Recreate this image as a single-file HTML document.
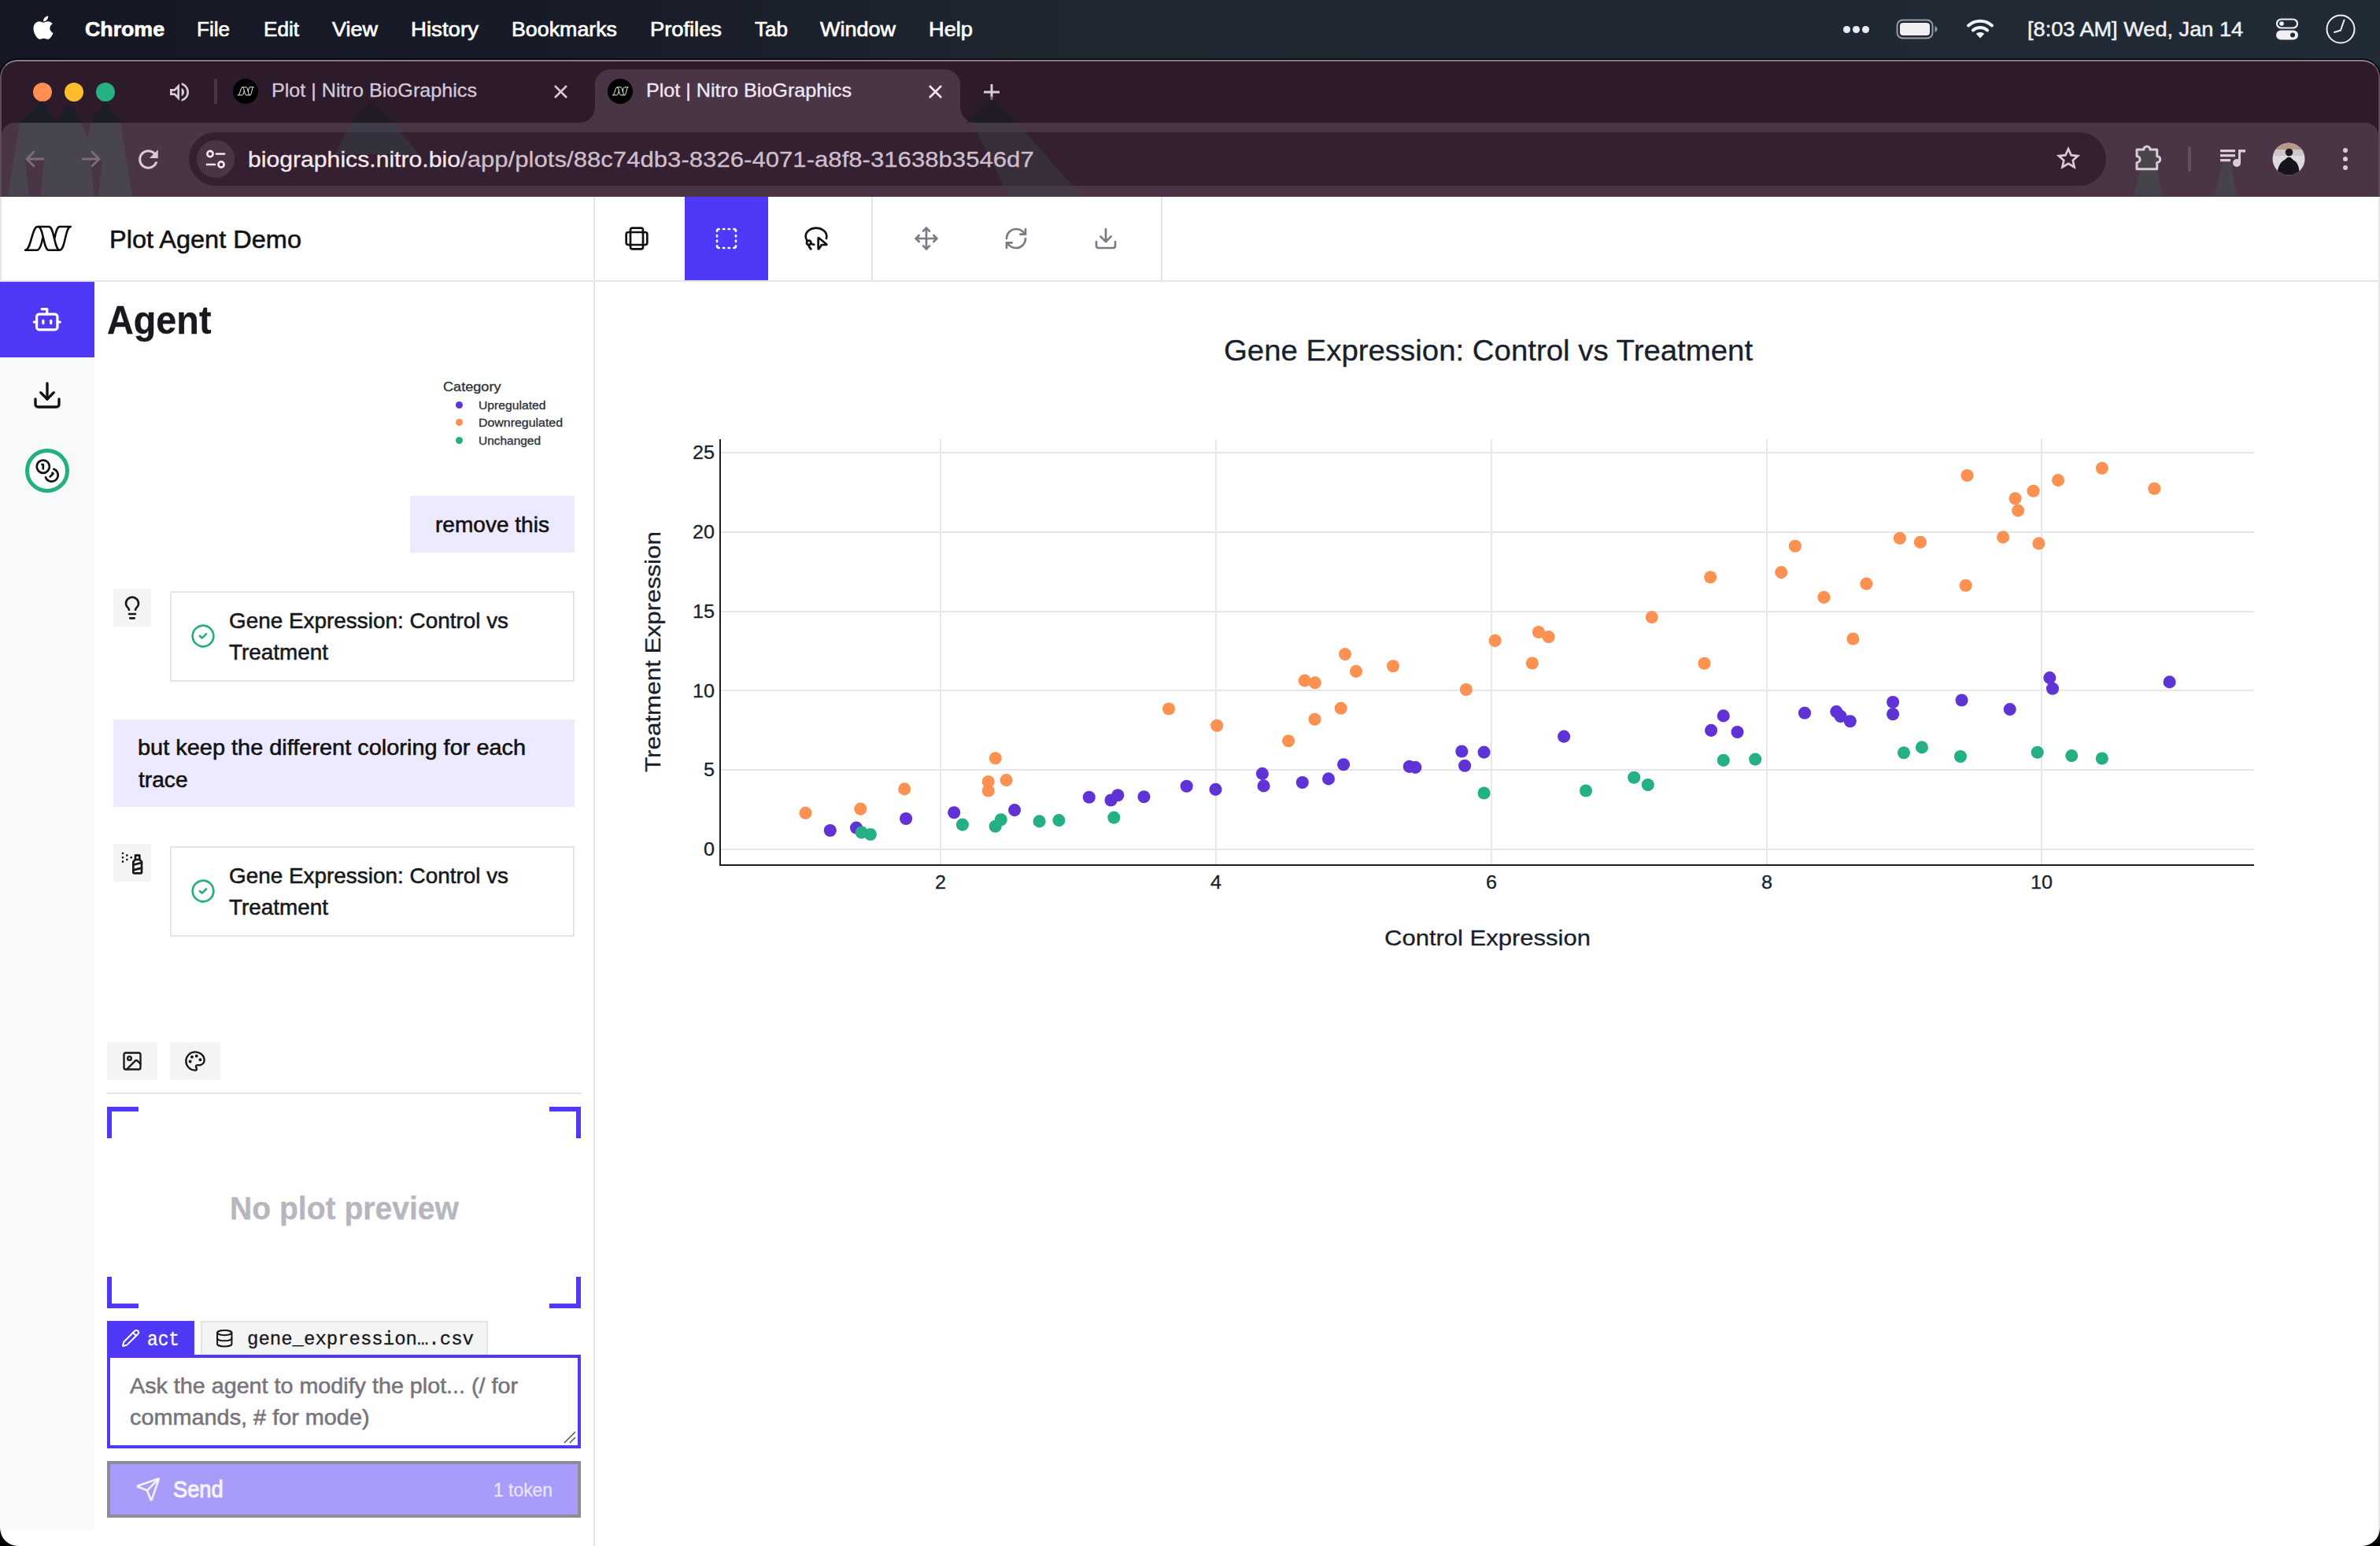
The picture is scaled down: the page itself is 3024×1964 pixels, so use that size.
<!DOCTYPE html>
<html><head><meta charset="utf-8"><title>Plot | Nitro BioGraphics</title>
<style>
html,body{margin:0;padding:0}
body{width:3024px;height:1964px;position:relative;overflow:hidden;background:#fff;font-family:"Liberation Sans",sans-serif}
.t{position:absolute;white-space:nowrap;transform-origin:0 50%;-webkit-text-stroke:0.3px currentColor}
.r{position:absolute;box-sizing:border-box}
</style></head><body>
<div class="r" style="left:0px;top:0px;width:3024px;height:110px;background:linear-gradient(90deg,#151824 0%,#181c28 25%,#1f2731 45%,#212b35 100%);"></div>
<svg class="r" style="left:41px;top:18px;" width="28" height="34" viewBox="0 0 384 512"><path fill="#fff" d="M318.700 268.700c-.2-36.700 16.400-64.400 50-84.800-18.800-26.900-47.200-41.700-84.700-44.600-35.500-2.800-74.300 20.700-88.500 20.700-15 0-49.400-19.700-76.400-19.700C63.300 141.200 4 184.800 4 273.500q0 39.300 14.400 81.200c12.800 36.700 59 126.700 107.200 125.200 25.200-.6 43-17.900 75.800-17.900 31.800 0 48.300 17.900 76.400 17.900 48.600-.7 90.400-82.500 102.600-119.300-65.200-30.700-61.700-90-61.700-91.900zm-56.600-164.200c27.300-32.400 24.800-61.900 24-72.500-24.100 1.400-52 16.400-67.900 34.900-17.500 19.800-27.800 44.300-25.600 71.900 26.100 2 49.900-11.400 69.500-34.300z"/></svg>
<div class="t" style="left:108.0px;top:24.8px;font:700 25px/25px 'Liberation Sans',sans-serif;color:#fff;transform:scaleX(1.0693);-webkit-text-stroke:0.650px #fff">Chrome</div>
<div class="t" style="left:250.0px;top:24.8px;font:400 25px/25px 'Liberation Sans',sans-serif;color:#fff;transform:scaleX(1.0431);-webkit-text-stroke:0.650px #fff">File</div>
<div class="t" style="left:335.0px;top:24.8px;font:400 25px/25px 'Liberation Sans',sans-serif;color:#fff;transform:scaleX(1.0446);-webkit-text-stroke:0.650px #fff">Edit</div>
<div class="t" style="left:422.0px;top:24.8px;font:400 25px/25px 'Liberation Sans',sans-serif;color:#fff;transform:scaleX(1.0797);-webkit-text-stroke:0.650px #fff">View</div>
<div class="t" style="left:522.0px;top:24.8px;font:400 25px/25px 'Liberation Sans',sans-serif;color:#fff;transform:scaleX(1.1057);-webkit-text-stroke:0.650px #fff">History</div>
<div class="t" style="left:650.0px;top:24.8px;font:400 25px/25px 'Liberation Sans',sans-serif;color:#fff;transform:scaleX(1.0716);-webkit-text-stroke:0.650px #fff">Bookmarks</div>
<div class="t" style="left:826.0px;top:24.8px;font:400 25px/25px 'Liberation Sans',sans-serif;color:#fff;transform:scaleX(1.0917);-webkit-text-stroke:0.650px #fff">Profiles</div>
<div class="t" style="left:959.0px;top:24.8px;font:400 25px/25px 'Liberation Sans',sans-serif;color:#fff;transform:scaleX(1.0419);-webkit-text-stroke:0.650px #fff">Tab</div>
<div class="t" style="left:1042.0px;top:24.8px;font:400 25px/25px 'Liberation Sans',sans-serif;color:#fff;transform:scaleX(1.0798);-webkit-text-stroke:0.650px #fff">Window</div>
<div class="t" style="left:1180.0px;top:24.8px;font:400 25px/25px 'Liberation Sans',sans-serif;color:#fff;transform:scaleX(1.0894);-webkit-text-stroke:0.650px #fff">Help</div>
<div class="r" style="left:2342px;top:33px;width:8.5px;height:8.5px;background:#e9e9ee;border-radius:50%"></div>
<div class="r" style="left:2354px;top:33px;width:8.5px;height:8.5px;background:#e9e9ee;border-radius:50%"></div>
<div class="r" style="left:2366px;top:33px;width:8.5px;height:8.5px;background:#e9e9ee;border-radius:50%"></div>
<svg class="r" style="left:2408px;top:23px" width="56" height="28" viewBox="0 0 56 28"><rect x="2.500" y="2.500" width="45" height="23" rx="7" fill="none" stroke="#9a9aa6" stroke-width="2"/><rect x="6" y="6" width="38" height="16" rx="4" fill="#eeeef3"/><path d="M50.500 10v8c2-.8 3-2.300 3-4s-1-3.200-3-4z" fill="#9a9aa6"/></svg>
<svg class="r" style="left:2498px;top:23px" width="36" height="27" viewBox="0 0 36 27"><g fill="none" stroke="#f0f0f4" stroke-width="4" stroke-linecap="round"><path d="M3 9.500C11.500 1.800 24.500 1.800 33 9.500"/><path d="M8.800 15.500c5.200-4.600 13.200-4.600 18.400 0"/></g><path d="M18 25.500l-5.200-5.600c2.900-2.500 7.500-2.500 10.400 0z" fill="#f0f0f4"/></svg>
<div class="t" style="left:2576.0px;top:24.3px;font:400 26px/26px 'Liberation Sans',sans-serif;color:#f0f0f4;transform:scaleX(1.0439);-webkit-text-stroke:0.500px #f0f0f4">[8:03 AM] Wed, Jan 14</div>
<svg class="r" style="left:2892px;top:23px" width="28" height="28" viewBox="0 0 28 28"><rect x="1" y="1.500" width="26" height="11" rx="5.500" fill="none" stroke="#f0f0f4" stroke-width="2.200"/><circle cx="7" cy="7" r="2.800" fill="#f0f0f4"/><rect x="0" y="15.500" width="28" height="12" rx="6" fill="#f0f0f4"/><circle cx="21" cy="21.500" r="3" fill="#212b35"/></svg>
<svg class="r" style="left:2955px;top:18px" width="38" height="38" viewBox="0 0 38 38"><circle cx="19" cy="19" r="17.500" fill="none" stroke="#f0f0f4" stroke-width="2"/><path d="M19 20.500l-8 2.500M19 20.500l4.500-13" stroke="#f0f0f4" stroke-width="2" stroke-linecap="round" fill="none"/></svg>
<div class="r" style="left:0px;top:75.5px;width:3024px;height:180px;background:#2d1b2b;border-radius:22px 22px 0 0;border:2px solid #5a4e59;border-top-color:#857a86;border-bottom:none;box-shadow:0 0 0 1.500px #000"></div>
<div class="r" style="left:2px;top:156px;width:3020px;height:94px;background:#4a3547;border-radius:16px 16px 0 0"></div>
<div class="r" style="left:756px;top:88px;width:464px;height:70px;background:#4a3547;border-radius:20px 20px 0 0"></div>
<svg class="r" style="left:736px;top:136px" width="20" height="20"><path d="M20 0v20H0A20 20 0 0 0 20 0z" fill="#4a3547"/></svg>
<svg class="r" style="left:1220px;top:136px" width="20" height="20"><path d="M0 0v20h20A20 20 0 0 1 0 0z" fill="#4a3547"/></svg>
<div class="r" style="left:42px;top:105px;width:24px;height:24px;background:#ff8f50;border-radius:50%"></div>
<div class="r" style="left:82px;top:105px;width:24px;height:24px;background:#ffbd2e;border-radius:50%"></div>
<div class="r" style="left:122px;top:105px;width:24px;height:24px;background:#24b280;border-radius:50%"></div>
<svg class="r" style="left:212px;top:100.500px" width="32" height="32" viewBox="0 0 24 24" fill="#d9cbd7" fill-rule="evenodd"><path d="M3 9v6h4l5 5V4L7 9H3zm7-.17v6.340L7.830 13H5v-2h2.830L10 8.830zM16.500 12A4.500 4.500 0 0 0 14 7.970v8.050c1.480-.73 2.500-2.250 2.500-4.020zM14 3.230v2.060c2.890.86 5 3.540 5 6.710s-2.110 5.850-5 6.710v2.060c4.010-.91 7-4.490 7-8.770s-2.990-7.860-7-8.770z"/></svg>
<div class="r" style="left:272px;top:100px;width:4px;height:32px;background:#4a3547;border-radius:1px"></div>
<div class="r" style="left:296px;top:100px;width:32px;height:32px;background:#000;border-radius:50%"></div>
<svg class="r" style="left:301.5px;top:110.2px" width="21" height="11.600" viewBox="-2 -1 62 34" fill="none" stroke="#fff" stroke-width="2.800" stroke-linejoin="round" stroke-linecap="round"><path d="M0.2 30.9C7.600 30.900 8.400 1.260 15.800 1.260L30 1.260C37.200 1.260 36.800 30.900 43.900 30.900C51.200 30.900 50.600 1.260 57.800 1.260L43.900 1.260C40.200 1.260 38.800 9 37.400 16"/><path d="M0.2 30.900L14.900 30.900C18.300 30.900 21 22 22.300 15.600"/><path d="M16.500 1.260C23.300 1.260 23 30.900 30 30.900L43.900 30.900"/></svg>
<div class="r" style="left:772px;top:100px;width:32px;height:32px;background:#000;border-radius:50%"></div>
<svg class="r" style="left:777.5px;top:110.2px" width="21" height="11.600" viewBox="-2 -1 62 34" fill="none" stroke="#fff" stroke-width="2.800" stroke-linejoin="round" stroke-linecap="round"><path d="M0.2 30.9C7.600 30.900 8.400 1.260 15.800 1.260L30 1.260C37.200 1.260 36.800 30.900 43.900 30.900C51.200 30.900 50.600 1.260 57.800 1.260L43.900 1.260C40.200 1.260 38.800 9 37.400 16"/><path d="M0.2 30.900L14.900 30.900C18.300 30.900 21 22 22.300 15.600"/><path d="M16.500 1.260C23.300 1.260 23 30.900 30 30.900L43.900 30.900"/></svg>
<div class="t" style="left:345.0px;top:103.2px;font:400 24px/24px 'Liberation Sans',sans-serif;color:#d6c8d4;transform:scaleX(1.0482);">Plot | Nitro BioGraphics</div>
<div class="t" style="left:821.0px;top:103.2px;font:400 24px/24px 'Liberation Sans',sans-serif;color:#f1e9ef;transform:scaleX(1.0482);">Plot | Nitro BioGraphics</div>
<svg class="r" style="left:703.0px;top:107.0px" width="19" height="19"><path d="M2 2L17 17M17 2L2 17" stroke="#d6c8d4" stroke-width="2.6" fill="none"/></svg>
<svg class="r" style="left:1178.5px;top:107.0px" width="19" height="19"><path d="M2 2L17 17M17 2L2 17" stroke="#f1e9ef" stroke-width="2.6" fill="none"/></svg>
<svg class="r" style="left:1248px;top:105px" width="24" height="24"><path d="M12 2v20M2 12h20" stroke="#d9cbd7" stroke-width="3" fill="none"/></svg>
<svg class="r" style="left:169.850px;top:183.850px" width="36.900" height="36.900" viewBox="0 0 24 24" fill="#d9cbd7"><path d="M17.650 6.350A7.958 7.958 0 0 0 12 4c-4.420 0-7.990 3.580-7.990 8s3.570 8 7.990 8c3.730 0 6.840-2.550 7.730-6h-2.080A5.990 5.990 0 0 1 12 18c-3.310 0-6-2.690-6-6s2.690-6 6-6c1.660 0 3.140.69 4.220 1.780L13 11h7V4l-2.350 2.350z"/></svg>
<div class="r" style="left:240px;top:168px;width:2436px;height:68px;background:#342031;border-radius:34px"></div>
<svg class="r" style="left:25px;top:128px" width="47" height="28"><polygon points="29.0,0.0 0.0,28.0 47.0,28.0" fill="rgba(22,30,38,0.78)"/></svg>
<svg class="r" style="left:72px;top:129px" width="33" height="27"><polygon points="16.0,0.0 0.0,23.0 0.0,27.0 33.0,27.0" fill="rgba(22,30,38,0.78)"/></svg>
<svg class="r" style="left:116px;top:128px" width="37" height="28"><polygon points="18.0,0.0 0.0,28.0 37.0,28.0" fill="rgba(22,30,38,0.78)"/></svg>
<svg class="r" style="left:10px;top:156px" width="158" height="93"><polygon points="15.0,0.0 94.0,0.0 101.0,20.0 106.0,0.0 143.0,0.0 158.0,93.0 0.0,93.0" fill="rgba(72,84,84,0.520)"/></svg>
<svg class="r" style="left:32px;top:203px" width="24" height="46"><polygon points="0.0,0.0 24.0,0.0 19.5,46.0 5.0,46.0" fill="#4a3547"/></svg>
<svg class="r" style="left:114.5px;top:204px" width="15.199999999999989" height="45"><polygon points="0.0,0.0 15.2,0.0 10.1,45.0 5.1,45.0" fill="#4a3547"/></svg>
<svg class="r" style="left:446px;top:127px" width="54" height="29"><polygon points="27.0,0.0 0.0,29.0 54.0,29.0" fill="rgba(22,30,38,0.45)"/></svg>
<svg class="r" style="left:426px;top:156px" width="106" height="40"><polygon points="20.0,0.0 74.0,0.0 106.0,40.0 0.0,40.0" fill="rgba(52,72,76,0.42)"/></svg>
<svg class="r" style="left:1227px;top:122px" width="65" height="34"><polygon points="33.0,0.0 0.0,34.0 65.0,34.0" fill="rgba(22,30,38,0.55)"/></svg>
<svg class="r" style="left:1235px;top:156px" width="139" height="93"><polygon points="0.0,0.0 57.0,0.0 139.0,93.0 47.0,93.0" fill="rgba(60,70,70,0.38)"/></svg>
<svg class="r" style="left:2711px;top:205px" width="37" height="44"><polygon points="11.0,0.0 27.0,0.0 37.0,44.0 0.0,44.0" fill="rgba(70,78,76,0.55)"/></svg>
<svg class="r" style="left:2814px;top:205px" width="28" height="44"><polygon points="10.0,0.0 20.0,0.0 28.0,44.0 0.0,44.0" fill="rgba(70,78,76,0.55)"/></svg>
<svg class="r" style="left:30px;top:188px" width="28" height="28" viewBox="0 0 28 28" fill="none" stroke="#7d6a7b" stroke-width="2.800" stroke-linecap="round" stroke-linejoin="round"><path d="M25 14H4M13 5l-9 9 9 9"/></svg>
<svg class="r" style="left:102px;top:188px" width="28" height="28" viewBox="0 0 28 28" fill="none" stroke="#7d6a7b" stroke-width="2.800" stroke-linecap="round" stroke-linejoin="round"><path d="M3 14h21M15 5l9 9-9 9"/></svg>
<div class="r" style="left:250px;top:178px;width:48px;height:48px;background:#4a3547;border-radius:50%"></div>
<svg class="r" style="left:260px;top:189px" width="28" height="27" viewBox="0 0 28 27" fill="none" stroke="#f1e9ef" stroke-width="2.600" stroke-linecap="round"><circle cx="7" cy="6.500" r="3.600"/><path d="M15 6.500h10"/><circle cx="21" cy="20" r="3.600"/><path d="M3 20h10"/></svg>
<div class="t" style="left:314.5px;top:188.8px;font:400 28px/28px 'Liberation Sans',sans-serif;color:#f1e9ef;transform:scaleX(1.0772);">biographics.nitro.bio</div>
<div class="t" style="left:585.0px;top:188.8px;font:400 28px/28px 'Liberation Sans',sans-serif;color:#cdbfcb;transform:scaleX(1.1118);">/app/plots/88c74db3-8326-4071-a8f8-31638b3546d7</div>
<svg class="r" style="left:2612px;top:185px" width="32" height="32" viewBox="0 0 24 24" fill="none" stroke="#d9cbd7" stroke-width="2" stroke-linejoin="miter"><path d="M12 3.200l2.700 5.900 6.400.7-4.800 4.300 1.400 6.300L12 17.100l-5.700 3.300 1.400-6.300-4.800-4.300 6.400-.7z"/></svg>
<svg class="r" style="left:2713.100px;top:183.500px" width="36" height="36" viewBox="0 0 36 36" fill="#4b454b" stroke="#d9cbd7" stroke-width="3" stroke-linejoin="round"><path d="M2 6H10.850A4 4 0 0 1 18.850 6H27.700V14.400A4 4 0 0 1 27.700 22.400V30.800H2V22.400A4 4 0 0 0 2 14.400Z"/></svg>
<div class="r" style="left:2780px;top:186px;width:4px;height:32px;background:#64525f;border-radius:2px"></div>
<svg class="r" style="left:2821px;top:188px" width="32" height="26" viewBox="0 0 32 26" fill="#d9cbd7"><rect x="0" y="2" width="19" height="3.200"/><rect x="0" y="8" width="19" height="3.200"/><rect x="0" y="14" width="13" height="3.200"/><circle cx="21" cy="19" r="5"/><rect x="23" y="2" width="3" height="17"/><rect x="23" y="2" width="9" height="3.500"/></svg>
<svg class="r" style="left:2887px;top:181px" width="42" height="42" viewBox="0 0 42 42"><defs><clipPath id="av"><circle cx="21" cy="21" r="20.500"/></clipPath></defs><g clip-path="url(#av)"><rect width="42" height="42" fill="#dcdade"/><rect width="42" height="11" fill="#b89888"/><rect y="9" width="42" height="8" fill="#cfc6c8"/><circle cx="21.500" cy="12.500" r="4.800" fill="#1b1820"/><path d="M6 42c1-9 3-16 9-19.500 3-1.500 3.500-4 6.500-4s4 3 6.500 4.500c5 3 6.500 9 7 19z" fill="#15141b"/></g></svg>
<div class="r" style="left:2977px;top:188px;width:6px;height:6px;background:#d9cbd7;border-radius:50%"></div>
<div class="r" style="left:2977px;top:199px;width:6px;height:6px;background:#d9cbd7;border-radius:50%"></div>
<div class="r" style="left:2977px;top:210px;width:6px;height:6px;background:#d9cbd7;border-radius:50%"></div>
<div class="r" style="left:0px;top:250px;width:3024px;height:1714px;background:#fff;"></div>
<div class="r" style="left:0px;top:250px;width:2px;height:1700px;background:rgba(90,80,95,0.15);"></div>
<div class="r" style="left:3022px;top:250px;width:2px;height:1700px;background:rgba(90,80,95,0.15);"></div>
<div class="r" style="left:0px;top:356px;width:3024px;height:2px;background:#e4e4ec;"></div>
<div class="r" style="left:0px;top:358px;width:120px;height:1586px;background:#f8f9fb;"></div>
<div class="r" style="left:0px;top:358px;width:120px;height:96px;background:#4f39f6;"></div>
<svg class="r" style="left:40.25px;top:386px;" width="39.5" height="39.5" viewBox="0 0 24 24" fill="none" stroke="#fff" stroke-width="2" stroke-linecap="round" stroke-linejoin="round"><path d="M12 8V4H8"/><rect width="16" height="12" x="4" y="8" rx="2"/><path d="M2 14h2"/><path d="M20 14h2"/><path d="M15 13v2"/><path d="M9 13v2"/></svg>
<svg class="r" style="left:40px;top:482px;" width="40" height="40" viewBox="0 0 24 24" fill="none" stroke="#111" stroke-width="2" stroke-linecap="round" stroke-linejoin="round"><path d="M21 15v4a2 2 0 0 1-2 2H5a2 2 0 0 1-2-2v-4"/><polyline points="7 10 12 15 17 10"/><line x1="12" x2="12" y1="15" y2="3"/></svg>
<div class="r" style="left:32px;top:570px;width:55.6px;height:55.6px;background:#fff;border-radius:50%;border:5px solid #22b07d"></div>
<svg class="r" style="left:43.7px;top:581.5px;" width="32.4" height="32.4" viewBox="0 0 24 24" fill="none" stroke="#111" stroke-width="2" stroke-linecap="round" stroke-linejoin="round"><circle cx="8" cy="8" r="6"/><path d="M18.09 10.37A6 6 0 1 1 10.34 18"/><path d="M7 6h1v4"/><path d="m16.71 13.88.7.71-2.82 2.82"/></svg>
<div class="r" style="left:754px;top:250px;width:2px;height:1714px;background:#e4e4ec;"></div>
<svg class="r" style="left:30px;top:284px" width="62" height="36" viewBox="-2 -2.800 62 36" fill="none" stroke="#0a0a0a" stroke-width="2.500" stroke-linejoin="round" stroke-linecap="round"><path d="M0.2 30.9C7.600 30.900 8.400 1.260 15.800 1.260L30 1.260C37.200 1.260 36.800 30.900 43.900 30.900C51.200 30.900 50.600 1.260 57.800 1.260L43.900 1.260C40.200 1.260 38.800 9 37.400 16"/><path d="M0.2 30.900L14.900 30.900C18.300 30.900 21 22 22.300 15.600"/><path d="M16.500 1.260C23.300 1.260 23 30.900 30 30.900L43.900 30.900"/></svg>
<div class="t" style="left:139.0px;top:287.5px;font:400 32px/32px 'Liberation Sans',sans-serif;color:#111;transform:scaleX(1.0161);-webkit-text-stroke:0.550px currentColor">Plot Agent Demo</div>
<div class="t" style="left:135.8px;top:382.3px;font:700 49.5px/49.5px 'Liberation Sans',sans-serif;color:#18181f;transform:scaleX(0.9448);">Agent</div>
<div class="r" style="left:870px;top:250px;width:106px;height:106px;background:#4f39f6;"></div>
<div class="r" style="left:1106.5px;top:250px;width:2px;height:106px;background:#e4e4ec;"></div>
<div class="r" style="left:1475px;top:250px;width:2px;height:106px;background:#e4e4ec;"></div>
<svg class="r" style="left:793px;top:287px;" width="32" height="32" viewBox="0 0 24 24" fill="none" stroke="#111" stroke-width="2" stroke-linecap="round" stroke-linejoin="round"><rect width="12" height="20" x="6" y="2" rx="2"/><rect width="20" height="12" x="2" y="6" rx="2"/></svg>
<svg class="r" style="left:907px;top:287px;" width="32" height="32" viewBox="0 0 24 24" fill="none" stroke="#fff" stroke-width="2" stroke-linecap="round" stroke-linejoin="round"><path d="M5 3a2 2 0 0 0-2 2"/><path d="M19 3a2 2 0 0 1 2 2"/><path d="M21 19a2 2 0 0 1-2 2"/><path d="M5 21a2 2 0 0 1-2-2"/><path d="M9 3h1"/><path d="M9 21h1"/><path d="M14 3h1"/><path d="M14 21h1"/><path d="M3 9v1"/><path d="M21 9v1"/><path d="M3 14v1"/><path d="M21 14v1"/></svg>
<svg class="r" style="left:1021.4000000000001px;top:287px;" width="32" height="32" viewBox="0 0 24 24" fill="none" stroke="#111" stroke-width="2" stroke-linecap="round" stroke-linejoin="round"><path d="M7 22a5 5 0 0 1-2-4"/><path d="M7 16.93c.96.43 1.96.74 2.990.91"/><path d="M3.34 14A6.8 6.8 0 0 1 2 10c0-4.420 4.480-8 10-8s10 3.580 10 8a7.190 7.190 0 0 1-.33 2"/><path d="M5 18a2 2 0 1 0 0-4 2 2 0 0 0 0 4z"/><path d="M14.33 22h-.09a.35.35 0 0 1-.24-.32v-10a.34.34 0 0 1 .33-.34c.08 0 .15.030.21.080l7.340 6a.33.33 0 0 1-.21.590h-4.490l-2.570 3.850a.35.35 0 0 1-.28.140z"/></svg>
<svg class="r" style="left:1161.2px;top:287px;" width="32" height="32" viewBox="0 0 24 24" fill="none" stroke="#7a7a85" stroke-width="2" stroke-linecap="round" stroke-linejoin="round"><path d="M12 2v20"/><path d="m15 19-3 3-3-3"/><path d="m19 9 3 3-3 3"/><path d="M2 12h20"/><path d="m5 9-3 3 3 3"/><path d="m9 5 3-3 3 3"/></svg>
<svg class="r" style="left:1275.3px;top:287px;" width="32" height="32" viewBox="0 0 24 24" fill="none" stroke="#7a7a85" stroke-width="2" stroke-linecap="round" stroke-linejoin="round"><path d="M3 12a9 9 0 0 1 9-9 9.75 9.75 0 0 1 6.740 2.740L21 8"/><path d="M21 3v5h-5"/><path d="M21 12a9 9 0 0 1-9 9 9.75 9.75 0 0 1-6.740-2.740L3 16"/><path d="M8 16H3v5"/></svg>
<svg class="r" style="left:1389.2px;top:287px;" width="32" height="32" viewBox="0 0 24 24" fill="none" stroke="#7a7a85" stroke-width="2" stroke-linecap="round" stroke-linejoin="round"><path d="M21 15v4a2 2 0 0 1-2 2H5a2 2 0 0 1-2-2v-4"/><polyline points="7 10 12 15 17 10"/><line x1="12" x2="12" y1="15" y2="3"/></svg>
<div class="t" style="left:563.0px;top:483.4px;font:400 17px/17px 'Liberation Sans',sans-serif;color:#2a2f3a;transform:scaleX(1.0657);">Category</div>
<div class="r" style="left:578.5px;top:510.0px;width:9px;height:9px;background:#6033d6;border-radius:50%"></div>
<div class="t" style="left:607.5px;top:508.0px;font:400 14.5px/14.5px 'Liberation Sans',sans-serif;color:#2a2f3a;transform:scaleX(1.0825);">Upregulated</div>
<div class="r" style="left:578.5px;top:532.2px;width:9px;height:9px;background:#fd9152;border-radius:50%"></div>
<div class="t" style="left:607.5px;top:530.2px;font:400 14.5px/14.5px 'Liberation Sans',sans-serif;color:#2a2f3a;transform:scaleX(1.0973);">Downregulated</div>
<div class="r" style="left:578.5px;top:554.5px;width:9px;height:9px;background:#24b084;border-radius:50%"></div>
<div class="t" style="left:607.5px;top:552.5px;font:400 14.5px/14.5px 'Liberation Sans',sans-serif;color:#2a2f3a;transform:scaleX(1.0653);">Unchanged</div>
<div class="r" style="left:521px;top:630px;width:209px;height:72px;background:#ede9fe;"></div>
<div class="t" style="left:552.5px;top:652.8px;font:400 28px/28px 'Liberation Sans',sans-serif;color:#111;transform:scaleX(1.0017);-webkit-text-stroke:0.550px currentColor">remove this</div>
<div class="r" style="left:144px;top:748px;width:48px;height:48px;background:#f4f4f5;"></div>
<svg class="r" style="left:152px;top:756px;" width="32" height="32" viewBox="0 0 24 24" fill="none" stroke="#18181b" stroke-width="2" stroke-linecap="round" stroke-linejoin="round"><path d="M15 14c.2-1 .7-1.7 1.5-2.5 1-.9 1.5-2.2 1.5-3.5A6 6 0 0 0 6 8c0 1 .2 2.2 1.5 3.5.7.7 1.300 1.5 1.5 2.5"/><path d="M9 18h6"/><path d="M10 22h4"/></svg>
<div class="r" style="left:216px;top:751px;width:514px;height:115px;background:#fff;border:2px solid #e4e4ea"></div>
<svg class="r" style="left:242px;top:792px;" width="32" height="32" viewBox="0 0 24 24" fill="none" stroke="#22b07d" stroke-width="2" stroke-linecap="round" stroke-linejoin="round"><circle cx="12" cy="12" r="10"/><path d="m9 12 2 2 4-4"/></svg>
<div class="t" style="left:290.5px;top:773.7px;font:400 28.5px/28.5px 'Liberation Sans',sans-serif;color:#18181b;transform:scaleX(0.9788);-webkit-text-stroke:0.550px currentColor">Gene Expression: Control vs</div>
<div class="t" style="left:290.5px;top:813.7px;font:400 28.5px/28.5px 'Liberation Sans',sans-serif;color:#18181b;transform:scaleX(0.9784);-webkit-text-stroke:0.550px currentColor">Treatment</div>
<div class="r" style="left:144px;top:914px;width:586px;height:111px;background:#ede9fe;"></div>
<div class="t" style="left:175.2px;top:935.2px;font:400 28.5px/28.5px 'Liberation Sans',sans-serif;color:#111;transform:scaleX(1.0149);-webkit-text-stroke:0.550px currentColor">but keep the different coloring for each</div>
<div class="t" style="left:176.0px;top:975.6px;font:400 28.5px/28.5px 'Liberation Sans',sans-serif;color:#111;transform:scaleX(0.9867);-webkit-text-stroke:0.550px currentColor">trace</div>
<div class="r" style="left:144px;top:1072px;width:48px;height:48px;background:#f4f4f5;"></div>
<svg class="r" style="left:152px;top:1080px;" width="32" height="32" viewBox="0 0 24 24" fill="none" stroke="#18181b" stroke-width="2" stroke-linecap="round" stroke-linejoin="round"><path d="M3 3h.01"/><path d="M7 5h.01"/><path d="M11 7h.01"/><path d="M3 7h.01"/><path d="M7 9h.01"/><path d="M3 11h.01"/><rect width="4" height="4" x="15" y="5"/><path d="m19 9 2 2v10c0 .6-.4 1-1 1h-6c-.6 0-1-.4-1-1V11l2-2"/><path d="m13 14 8-2"/><path d="m13 19 8-2"/></svg>
<div class="r" style="left:216px;top:1074.5px;width:514px;height:115px;background:#fff;border:2px solid #e4e4ea"></div>
<svg class="r" style="left:242px;top:1116px;" width="32" height="32" viewBox="0 0 24 24" fill="none" stroke="#22b07d" stroke-width="2" stroke-linecap="round" stroke-linejoin="round"><circle cx="12" cy="12" r="10"/><path d="m9 12 2 2 4-4"/></svg>
<div class="t" style="left:290.5px;top:1097.9px;font:400 28.5px/28.5px 'Liberation Sans',sans-serif;color:#18181b;transform:scaleX(0.9788);-webkit-text-stroke:0.550px currentColor">Gene Expression: Control vs</div>
<div class="t" style="left:290.5px;top:1137.9px;font:400 28.5px/28.5px 'Liberation Sans',sans-serif;color:#18181b;transform:scaleX(0.9784);-webkit-text-stroke:0.550px currentColor">Treatment</div>
<div class="r" style="left:136px;top:1324px;width:64px;height:48px;background:#f4f4f5;"></div>
<div class="r" style="left:216px;top:1324px;width:64px;height:48px;background:#f4f4f5;"></div>
<svg class="r" style="left:154px;top:1334px;" width="28" height="28" viewBox="0 0 24 24" fill="none" stroke="#18181b" stroke-width="2" stroke-linecap="round" stroke-linejoin="round"><rect width="18" height="18" x="3" y="3" rx="2" ry="2"/><circle cx="9" cy="9" r="2"/><path d="m21 15-3.086-3.086a2 2 0 0 0-2.828 0L6 21"/></svg>
<svg class="r" style="left:234px;top:1334px;color:#18181b" width="28" height="28" viewBox="0 0 24 24" fill="none" stroke="#18181b" stroke-width="2" stroke-linecap="round" stroke-linejoin="round"><circle cx="13.5" cy="6.5" r=".7" fill="currentColor"/><circle cx="17.5" cy="10.5" r=".7" fill="currentColor"/><circle cx="8.5" cy="7.5" r=".7" fill="currentColor"/><circle cx="6.5" cy="12.5" r=".7" fill="currentColor"/><path d="M12 2C6.5 2 2 6.5 2 12s4.5 10 10 10c.926 0 1.648-.746 1.648-1.688 0-.437-.18-.835-.437-1.125-.29-.289-.438-.652-.438-1.125a1.64 1.64 0 0 1 1.668-1.668h1.996c3.051 0 5.555-2.503 5.555-5.554C21.965 6.012 17.461 2 12 2z"/></svg>
<div class="r" style="left:136px;top:1388px;width:602px;height:2px;background:#e4e4e7;"></div>
<div class="r" style="left:136px;top:1406px;width:40px;height:6px;background:#4f39f6;"></div>
<div class="r" style="left:136px;top:1406px;width:6px;height:40px;background:#4f39f6;"></div>
<div class="r" style="left:698px;top:1406px;width:40px;height:6px;background:#4f39f6;"></div>
<div class="r" style="left:732px;top:1406px;width:6px;height:40px;background:#4f39f6;"></div>
<div class="r" style="left:136px;top:1656px;width:40px;height:6px;background:#4f39f6;"></div>
<div class="r" style="left:136px;top:1622px;width:6px;height:40px;background:#4f39f6;"></div>
<div class="r" style="left:698px;top:1656px;width:40px;height:6px;background:#4f39f6;"></div>
<div class="r" style="left:732px;top:1622px;width:6px;height:40px;background:#4f39f6;"></div>
<div class="t" style="left:291.5px;top:1514.8px;font:700 41px/41px 'Liberation Sans',sans-serif;color:#b6b6bf;transform:scaleX(0.9533);">No plot preview</div>
<div class="r" style="left:136px;top:1678px;width:111px;height:43px;background:#4f39f6;"></div>
<svg class="r" style="left:154px;top:1688px;" width="24" height="24" viewBox="0 0 24 24" fill="none" stroke="#fff" stroke-width="2" stroke-linecap="round" stroke-linejoin="round"><path d="M21.174 6.812a1 1 0 0 0-3.986-3.987L3.842 16.174a2 2 0 0 0-.5.83l-1.321 4.352a.5.5 0 0 0 .623.622l4.353-1.32a2 2 0 0 0 .83-.497z"/><path d="m15 5 4 4"/></svg>
<div class="t" style="left:187.0px;top:1689.5px;font:400 25.5px/25.5px 'Liberation Mono',monospace;color:#fff;transform:scaleX(0.8934);">act</div>
<div class="r" style="left:255px;top:1678px;width:365px;height:43px;background:#f4f4f5;border:2px solid #e4e4e7;border-bottom:none"></div>
<svg class="r" style="left:273px;top:1687.5px;" width="24.5" height="24.5" viewBox="0 0 24 24" fill="none" stroke="#18181b" stroke-width="2" stroke-linecap="round" stroke-linejoin="round"><ellipse cx="12" cy="5" rx="9" ry="3"/><path d="M3 5V19A9 3 0 0 0 21 19V5"/><path d="M3 12A9 3 0 0 0 21 12"/></svg>
<div class="t" style="left:314.0px;top:1690.2px;font:400 24px/24px 'Liberation Mono',monospace;color:#18181b;transform:scaleX(0.9996);">gene_expression….csv</div>
<div class="r" style="left:136px;top:1721px;width:602px;height:119px;background:#fff;border:4px solid #4f39f6"></div>
<div class="t" style="left:164.5px;top:1746.1px;font:400 28.5px/28.5px 'Liberation Sans',sans-serif;color:#77747e;transform:scaleX(1.0072);-webkit-text-stroke:0.550px currentColor">Ask the agent to modify the plot... (/ for</div>
<div class="t" style="left:164.5px;top:1786.0px;font:400 28.5px/28.5px 'Liberation Sans',sans-serif;color:#77747e;transform:scaleX(1.0120);-webkit-text-stroke:0.550px currentColor">commands, # for mode)</div>
<svg class="r" style="left:716px;top:1818px" width="16" height="16"><path d="M15 1L1 15M15 8L8 15" stroke="#555" stroke-width="1.500" fill="none"/></svg>
<div class="r" style="left:136px;top:1856px;width:602px;height:72px;background:#a89cfa;border:4px solid #8e8b99"></div>
<svg class="r" style="left:171.8px;top:1875.7px;" width="32.3" height="32.3" viewBox="0 0 24 24" fill="none" stroke="#f3f1ff" stroke-width="2" stroke-linecap="round" stroke-linejoin="round"><path d="M14.536 21.686a.5.5 0 0 0 .937-.024l6.5-19a.496.496 0 0 0-.635-.635l-19 6.5a.5.5 0 0 0-.024.937l7.93 3.18a2 2 0 0 1 1.112 1.11z"/><path d="m21.854 2.147-10.94 10.939"/></svg>
<div class="t" style="left:220.0px;top:1877.0px;font:400 29.5px/29.5px 'Liberation Sans',sans-serif;color:#f5f3ff;transform:scaleX(0.9218);-webkit-text-stroke:1.100px #f5f3ff">Send</div>
<div class="t" style="left:626.5px;top:1880.7px;font:400 24px/24px 'Liberation Sans',sans-serif;color:#e9e5ff;transform:scaleX(0.9528);">1 token</div>
<svg class="r" style="left:0;top:1941px" width="23" height="23"><path d="M0 0v23h23A23 23 0 0 1 0 0z" fill="#000"/></svg>
<svg class="r" style="left:3001px;top:1941px" width="23" height="23"><path d="M23 0v23h-23A23 23 0 0 0 23 0z" fill="#000"/></svg>
<div class="r" style="left:1193.7px;top:558px;width:2px;height:541px;background:#e6e6ec;"></div>
<div class="r" style="left:1543.5px;top:558px;width:2px;height:541px;background:#e6e6ec;"></div>
<div class="r" style="left:1893.7px;top:558px;width:2px;height:541px;background:#e6e6ec;"></div>
<div class="r" style="left:2243.5px;top:558px;width:2px;height:541px;background:#e6e6ec;"></div>
<div class="r" style="left:2593.1px;top:558px;width:2px;height:541px;background:#e6e6ec;"></div>
<div class="r" style="left:915px;top:573.6px;width:1949px;height:2px;background:#e6e6ec;"></div>
<div class="r" style="left:915px;top:674.6px;width:1949px;height:2px;background:#e6e6ec;"></div>
<div class="r" style="left:915px;top:775.5px;width:1949px;height:2px;background:#e6e6ec;"></div>
<div class="r" style="left:915px;top:876.1px;width:1949px;height:2px;background:#e6e6ec;"></div>
<div class="r" style="left:915px;top:977px;width:1949px;height:2px;background:#e6e6ec;"></div>
<div class="r" style="left:915px;top:1077.9px;width:1949px;height:2px;background:#e6e6ec;"></div>
<svg class="r" style="left:0;top:0" width="3024" height="1200"><circle cx="1054.8" cy="1055.0" r="8.050" fill="#6033d6"/><circle cx="1088.0" cy="1051.6" r="8.050" fill="#6033d6"/><circle cx="1151.1" cy="1040.0" r="8.050" fill="#6033d6"/><circle cx="1212.2" cy="1032.3" r="8.050" fill="#6033d6"/><circle cx="1289.1" cy="1029.1" r="8.050" fill="#6033d6"/><circle cx="1383.8" cy="1012.7" r="8.050" fill="#6033d6"/><circle cx="1411.5" cy="1016.5" r="8.050" fill="#6033d6"/><circle cx="1420.3" cy="1010.2" r="8.050" fill="#6033d6"/><circle cx="1453.5" cy="1012.3" r="8.050" fill="#6033d6"/><circle cx="1507.7" cy="998.7" r="8.050" fill="#6033d6"/><circle cx="1544.5" cy="1002.9" r="8.050" fill="#6033d6"/><circle cx="1603.9" cy="982.9" r="8.050" fill="#6033d6"/><circle cx="1605.6" cy="998.4" r="8.050" fill="#6033d6"/><circle cx="1654.8" cy="994.0" r="8.050" fill="#6033d6"/><circle cx="1688.0" cy="989.4" r="8.050" fill="#6033d6"/><circle cx="1707.1" cy="971.3" r="8.050" fill="#6033d6"/><circle cx="1790.7" cy="973.9" r="8.050" fill="#6033d6"/><circle cx="1798.3" cy="974.9" r="8.050" fill="#6033d6"/><circle cx="1857.3" cy="954.5" r="8.050" fill="#6033d6"/><circle cx="1861.1" cy="972.8" r="8.050" fill="#6033d6"/><circle cx="1885.6" cy="955.6" r="8.050" fill="#6033d6"/><circle cx="1987.1" cy="935.6" r="8.050" fill="#6033d6"/><circle cx="2174.1" cy="927.9" r="8.050" fill="#6033d6"/><circle cx="2189.8" cy="909.4" r="8.050" fill="#6033d6"/><circle cx="2207.5" cy="930.0" r="8.050" fill="#6033d6"/><circle cx="2293.0" cy="905.8" r="8.050" fill="#6033d6"/><circle cx="2333.3" cy="904.1" r="8.050" fill="#6033d6"/><circle cx="2338.6" cy="910.0" r="8.050" fill="#6033d6"/><circle cx="2350.8" cy="916.3" r="8.050" fill="#6033d6"/><circle cx="2405.1" cy="892.0" r="8.050" fill="#6033d6"/><circle cx="2405.1" cy="907.2" r="8.050" fill="#6033d6"/><circle cx="2492.5" cy="889.5" r="8.050" fill="#6033d6"/><circle cx="2553.7" cy="901.1" r="8.050" fill="#6033d6"/><circle cx="2604.3" cy="861.1" r="8.050" fill="#6033d6"/><circle cx="2608.0" cy="874.7" r="8.050" fill="#6033d6"/><circle cx="2756.6" cy="866.4" r="8.050" fill="#6033d6"/><circle cx="1023.5" cy="1032.9" r="8.050" fill="#fd9152"/><circle cx="1093.3" cy="1027.6" r="8.050" fill="#fd9152"/><circle cx="1149.2" cy="1002.4" r="8.050" fill="#fd9152"/><circle cx="1264.7" cy="963.2" r="8.050" fill="#fd9152"/><circle cx="1255.7" cy="993.0" r="8.050" fill="#fd9152"/><circle cx="1255.7" cy="1004.5" r="8.050" fill="#fd9152"/><circle cx="1278.6" cy="991.1" r="8.050" fill="#fd9152"/><circle cx="1485.0" cy="900.5" r="8.050" fill="#fd9152"/><circle cx="1546.2" cy="921.8" r="8.050" fill="#fd9152"/><circle cx="1637.1" cy="941.3" r="8.050" fill="#fd9152"/><circle cx="1670.5" cy="913.8" r="8.050" fill="#fd9152"/><circle cx="1703.7" cy="899.7" r="8.050" fill="#fd9152"/><circle cx="1862.8" cy="876.0" r="8.050" fill="#fd9152"/><circle cx="1657.7" cy="864.6" r="8.050" fill="#fd9152"/><circle cx="1670.8" cy="867.4" r="8.050" fill="#fd9152"/><circle cx="1709.0" cy="831.1" r="8.050" fill="#fd9152"/><circle cx="1723.0" cy="852.9" r="8.050" fill="#fd9152"/><circle cx="1770.0" cy="846.3" r="8.050" fill="#fd9152"/><circle cx="1899.6" cy="813.9" r="8.050" fill="#fd9152"/><circle cx="1946.8" cy="842.5" r="8.050" fill="#fd9152"/><circle cx="1954.9" cy="803.0" r="8.050" fill="#fd9152"/><circle cx="1967.6" cy="809.1" r="8.050" fill="#fd9152"/><circle cx="2098.8" cy="784.1" r="8.050" fill="#fd9152"/><circle cx="2165.5" cy="842.7" r="8.050" fill="#fd9152"/><circle cx="2173.2" cy="733.3" r="8.050" fill="#fd9152"/><circle cx="2263.2" cy="727.1" r="8.050" fill="#fd9152"/><circle cx="2280.9" cy="693.8" r="8.050" fill="#fd9152"/><circle cx="2317.4" cy="758.7" r="8.050" fill="#fd9152"/><circle cx="2371.4" cy="741.6" r="8.050" fill="#fd9152"/><circle cx="2354.4" cy="811.5" r="8.050" fill="#fd9152"/><circle cx="2413.9" cy="683.8" r="8.050" fill="#fd9152"/><circle cx="2439.9" cy="688.8" r="8.050" fill="#fd9152"/><circle cx="2497.6" cy="743.7" r="8.050" fill="#fd9152"/><circle cx="2545.0" cy="682.4" r="8.050" fill="#fd9152"/><circle cx="2564.1" cy="648.6" r="8.050" fill="#fd9152"/><circle cx="2590.4" cy="690.4" r="8.050" fill="#fd9152"/><circle cx="2499.5" cy="604.0" r="8.050" fill="#fd9152"/><circle cx="2560.5" cy="633.3" r="8.050" fill="#fd9152"/><circle cx="2583.5" cy="623.7" r="8.050" fill="#fd9152"/><circle cx="2615.0" cy="610.1" r="8.050" fill="#fd9152"/><circle cx="2670.8" cy="594.7" r="8.050" fill="#fd9152"/><circle cx="2737.3" cy="620.8" r="8.050" fill="#fd9152"/><circle cx="1094.7" cy="1057.5" r="8.050" fill="#24b084"/><circle cx="1105.9" cy="1060.0" r="8.050" fill="#24b084"/><circle cx="1222.9" cy="1047.6" r="8.050" fill="#24b084"/><circle cx="1264.7" cy="1049.7" r="8.050" fill="#24b084"/><circle cx="1271.8" cy="1041.3" r="8.050" fill="#24b084"/><circle cx="1320.6" cy="1043.4" r="8.050" fill="#24b084"/><circle cx="1345.4" cy="1042.1" r="8.050" fill="#24b084"/><circle cx="1415.3" cy="1038.6" r="8.050" fill="#24b084"/><circle cx="1885.6" cy="1007.5" r="8.050" fill="#24b084"/><circle cx="2015.0" cy="1004.5" r="8.050" fill="#24b084"/><circle cx="2076.2" cy="987.7" r="8.050" fill="#24b084"/><circle cx="2093.8" cy="997.0" r="8.050" fill="#24b084"/><circle cx="2189.8" cy="965.9" r="8.050" fill="#24b084"/><circle cx="2230.2" cy="964.6" r="8.050" fill="#24b084"/><circle cx="2419.0" cy="956.2" r="8.050" fill="#24b084"/><circle cx="2441.9" cy="949.4" r="8.050" fill="#24b084"/><circle cx="2490.9" cy="961.0" r="8.050" fill="#24b084"/><circle cx="2588.7" cy="955.7" r="8.050" fill="#24b084"/><circle cx="2632.2" cy="960.1" r="8.050" fill="#24b084"/><circle cx="2670.8" cy="963.5" r="8.050" fill="#24b084"/></svg>
<div class="r" style="left:914px;top:558px;width:2px;height:542px;background:#1a1f2e;"></div>
<div class="r" style="left:914px;top:1098px;width:1950px;height:2px;background:#1a1f2e;"></div>
<div class="t" style="left:880.0px;top:563.0px;font:400 24px/24px 'Liberation Sans',sans-serif;color:#1a1f2e;transform:scaleX(1.0492);">25</div>
<div class="t" style="left:880.0px;top:664.0px;font:400 24px/24px 'Liberation Sans',sans-serif;color:#1a1f2e;transform:scaleX(1.0492);">20</div>
<div class="t" style="left:880.0px;top:764.9px;font:400 24px/24px 'Liberation Sans',sans-serif;color:#1a1f2e;transform:scaleX(1.0492);">15</div>
<div class="t" style="left:880.0px;top:865.5px;font:400 24px/24px 'Liberation Sans',sans-serif;color:#1a1f2e;transform:scaleX(1.0492);">10</div>
<div class="t" style="left:894.0px;top:966.4px;font:400 24px/24px 'Liberation Sans',sans-serif;color:#1a1f2e;transform:scaleX(1.0492);">5</div>
<div class="t" style="left:894.0px;top:1067.3px;font:400 24px/24px 'Liberation Sans',sans-serif;color:#1a1f2e;transform:scaleX(1.0492);">0</div>
<div class="t" style="left:1187.7px;top:1108.5px;font:400 24px/24px 'Liberation Sans',sans-serif;color:#1a1f2e;transform:scaleX(1.0492);">2</div>
<div class="t" style="left:1537.5px;top:1108.5px;font:400 24px/24px 'Liberation Sans',sans-serif;color:#1a1f2e;transform:scaleX(1.0492);">4</div>
<div class="t" style="left:1887.7px;top:1108.5px;font:400 24px/24px 'Liberation Sans',sans-serif;color:#1a1f2e;transform:scaleX(1.0492);">6</div>
<div class="t" style="left:2237.5px;top:1108.5px;font:400 24px/24px 'Liberation Sans',sans-serif;color:#1a1f2e;transform:scaleX(1.0492);">8</div>
<div class="t" style="left:2580.1px;top:1108.5px;font:400 24px/24px 'Liberation Sans',sans-serif;color:#1a1f2e;transform:scaleX(1.0492);">10</div>
<div class="t" style="left:1555.0px;top:428.0px;font:400 36px/36px 'Liberation Sans',sans-serif;color:#1a1f2e;transform:scaleX(1.0664);">Gene Expression: Control vs Treatment</div>
<div class="t" style="left:1759.0px;top:1178.0px;font:400 28px/28px 'Liberation Sans',sans-serif;color:#1a1f2e;transform:scaleX(1.1074);">Control Expression</div>
<div class="t" style="left:841px;top:981px;font:400 28px/28px 'Liberation Sans',sans-serif;color:#1a1f2e;transform-origin:0 0;transform:rotate(-90deg) scaleX(1.1212) translateY(-25.500px)">Treatment Expression</div>
</body></html>
